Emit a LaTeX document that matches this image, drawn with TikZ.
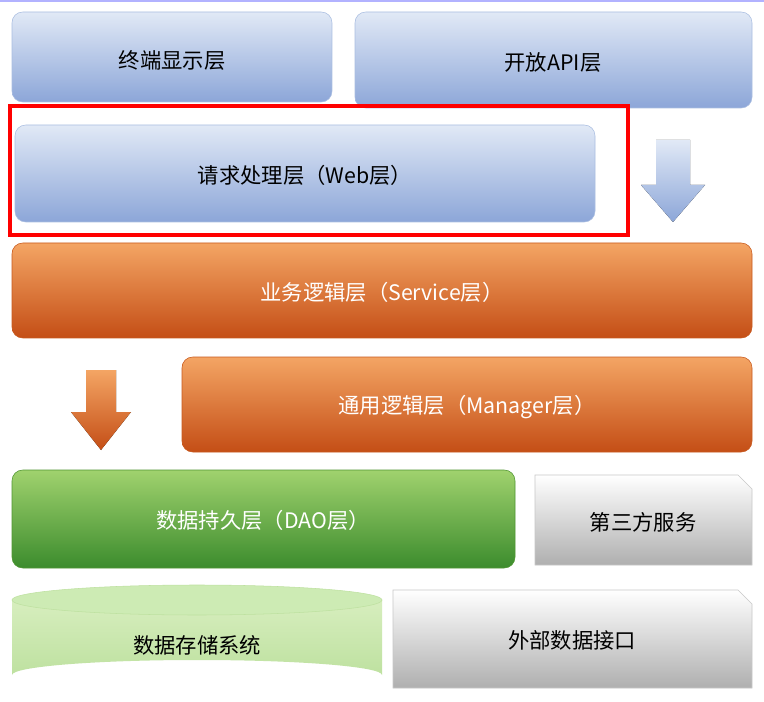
\documentclass[tikz,border=0pt]{standalone}
\usepackage{fontspec}
\newfontfamily\cjk{Noto Sans CJK SC}
\definecolor{bl1}{RGB}{225,233,246}
\definecolor{bl2}{RGB}{140,166,216}
\definecolor{bld}{RGB}{170,190,225}
\definecolor{or1}{RGB}{244,165,100}
\definecolor{or2}{RGB}{196,78,22}
\definecolor{ord}{RGB}{200,90,30}
\definecolor{gr1}{RGB}{160,210,110}
\definecolor{gr2}{RGB}{60,140,45}
\definecolor{grd}{RGB}{80,150,50}
\definecolor{gy2}{RGB}{175,175,175}
\definecolor{gyd}{RGB}{200,200,200}
\definecolor{cy1}{RGB}{215,238,190}
\definecolor{cy2}{RGB}{190,225,160}
\definecolor{cy3}{RGB}{205,235,180}
\begin{document}
\begin{tikzpicture}[x=0.75pt,y=-0.75pt,
  lbl/.style={font=\cjk\fontsize{16}{19}\selectfont},
  blue/.style={rounded corners=8pt, top color=bl1, bottom color=bl2, draw=bld},
  orng/.style={rounded corners=8pt, top color=or1, bottom color=or2, draw=ord},
  grn/.style={rounded corners=8pt, top color=gr1, bottom color=gr2, draw=grd},
  gry/.style={top color=white, bottom color=gy2, draw=gyd}]
\useasboundingbox (0,0) rectangle (764,702);
\fill[white] (0,0) rectangle (764,702);
\draw[blue!30, line width=1pt] (0,1) -- (764,1);

\path[blue] (12,12) rectangle (332,102);
\node[lbl] (a) at (172,60) {终端显示层};
\path[blue] (355,12) rectangle (752,108);
\node[lbl] (b) at (553,62) {开放API层};

\path[blue] (15,125) rectangle (595,222);
\node[lbl] (c) at (305,175) {请求处理层（Web层）};
\draw[red, line width=3pt] (10,106) rectangle (628,235);

\fill[top color=bl1, bottom color=bl2] (656,140) -- (690,140) -- (690,185) -- (705,185) -- (673,222) -- (641,185) -- (656,185) -- cycle;

\path[orng] (12,243) rectangle (752,338);
\node[lbl, text=white] (d) at (382,292) {业务逻辑层（Service层）};

\fill[top color=or1, bottom color=or2] (86,370) -- (116,370) -- (116,412) -- (131,412) -- (101,450) -- (71,412) -- (86,412) -- cycle;

\path[orng] (182,357) rectangle (752,452);
\node[lbl, text=white] (e) at (467,407) {通用逻辑层（Manager层）};

\path[grn] (12,470) rectangle (515,568);
\node[lbl, text=white] (f) at (263,520) {数据持久层（DAO层）};

\path[gry] (535,475) -- (738,475) -- (752,489) -- (752,565) -- (535,565) -- cycle;
\node[lbl] (g) at (643,522) {第三方服务};

\path[top color=cy1, bottom color=cy2] (12,600) -- (12,675) arc[start angle=180,end angle=360,x radius=185,y radius=15] -- (382,600) -- cycle;
\filldraw[fill=cy3, draw=cy2] (197,600) ellipse[x radius=185,y radius=15];
\node[lbl] (h) at (197,645) {数据存储系统};

\path[gry] (393,590) -- (738,590) -- (752,604) -- (752,688) -- (393,688) -- cycle;
\node[lbl] (i) at (572,640) {外部数据接口};
\end{tikzpicture}
\end{document}
